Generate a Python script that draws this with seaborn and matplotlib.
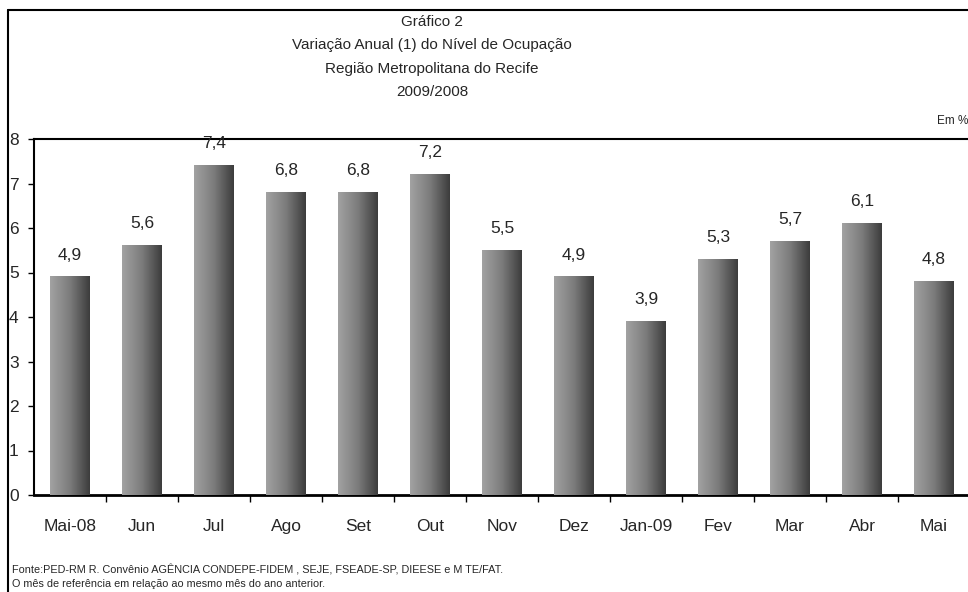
import numpy as np
import pandas as pd
import seaborn as sns
import matplotlib
matplotlib.use("Agg")
import matplotlib.pyplot as plt
from matplotlib.colors import LinearSegmentedColormap
from matplotlib.lines import Line2D

# dados
meses = ["Mai-08", "Jun", "Jul", "Ago", "Set", "Out", "Nov", "Dez",
         "Jan-09", "Fev", "Mar", "Abr", "Mai"]
variacao = [4.9, 5.6, 7.4, 6.8, 6.8, 7.2, 5.5, 4.9, 3.9, 5.3, 5.7, 6.1, 4.8]
y_ticks = [0, 1, 2, 3, 4, 5, 6, 7, 8]

titulo = ["Gráfico 2",
          "Variação Anual (1) do Nível de Ocupação",
          "Região Metropolitana do Recife",
          "2009/2008"]
notas = ["Fonte:PED-RM R. Convênio AGÊNCIA CONDEPE-FIDEM , SEJE, FSEADE-SP, DIEESE e M TE/FAT.",
         "O mês de referência em relação ao mesmo mês do ano anterior."]

sns.set_style("white")
plt.rcParams["font.family"] = ["Liberation Sans", "DejaVu Sans"]

df = pd.DataFrame({"mes": meses, "valor": variacao})

W, H = 968, 592
fig = plt.figure(figsize=(W / 100, H / 100), dpi=100)
ax = fig.add_axes([34 / W, 97 / H, 936 / W, 356 / H])

sns.barplot(data=df, x="mes", y="valor", color="#777777", width=0.555,
            ax=ax, zorder=2)

# gradiente horizontal nas barras (claro -> escuro)
grad = np.linspace(0, 1, 256).reshape(1, -1)
cmap = LinearSegmentedColormap.from_list("barra", ["#a2a2a2", "#7c7c7c", "#3c3c3c"])
for bar in ax.patches:
    x0, y0 = bar.get_x(), bar.get_y()
    w, h = bar.get_width(), bar.get_height()
    ax.imshow(grad, cmap=cmap, aspect="auto", extent=[x0, x0 + w, y0, y0 + h],
              zorder=3, interpolation="bilinear")

for i, v in enumerate(variacao):
    ax.annotate(f"{v:.1f}".replace(".", ","), (i, v), xytext=(0, 12.5),
                textcoords="offset points", ha="center", va="baseline",
                fontsize=12.5, zorder=4, annotation_clip=False)

ax.set_xlim(-0.5, len(meses) - 0.5)
ax.set_ylim(0, 8)
ax.set_yticks(y_ticks)
ax.set_xlabel("")
ax.set_ylabel("")
ax.grid(False)

ax.set_xticks(np.arange(len(meses)) + 0.5, minor=True)
ax.tick_params(axis="x", which="major", length=0, pad=17, labelsize=12.5)
ax.tick_params(axis="x", which="minor", length=5, width=1, direction="out",
               color="black", bottom=True)
ax.tick_params(axis="y", length=4, width=1, direction="out", color="black",
               left=True, pad=7, labelsize=12.5)

for s in ["left", "top", "bottom"]:
    ax.spines[s].set_visible(True)
    ax.spines[s].set_color("black")
ax.spines["left"].set_linewidth(1.5)
ax.spines["top"].set_linewidth(1.5)
ax.spines["bottom"].set_linewidth(2)
ax.spines["right"].set_visible(False)

# moldura do gráfico
fig.add_artist(Line2D([7.5 / W, 7.5 / W], [0, 1 - 10 / H],
                      transform=fig.transFigure, color="black", lw=1.5))
fig.add_artist(Line2D([7.5 / W, 1], [1 - 10 / H, 1 - 10 / H],
                      transform=fig.transFigure, color="black", lw=1.5))

for k, linha in enumerate(titulo):
    fig.text(432 / W, 1 - (22 + 23.5 * k) / H, linha, ha="center", va="center",
             fontsize=11)

fig.text(937 / W, 1 - 121 / H, "Em %", ha="left", va="center", fontsize=8.5)

fig.text(12 / W, 1 - 570 / H, notas[0], ha="left", va="center", fontsize=7.8)
fig.text(12 / W, 1 - 584 / H, notas[1], ha="left", va="center", fontsize=7.8)

fig.savefig("out.png", dpi=100)
